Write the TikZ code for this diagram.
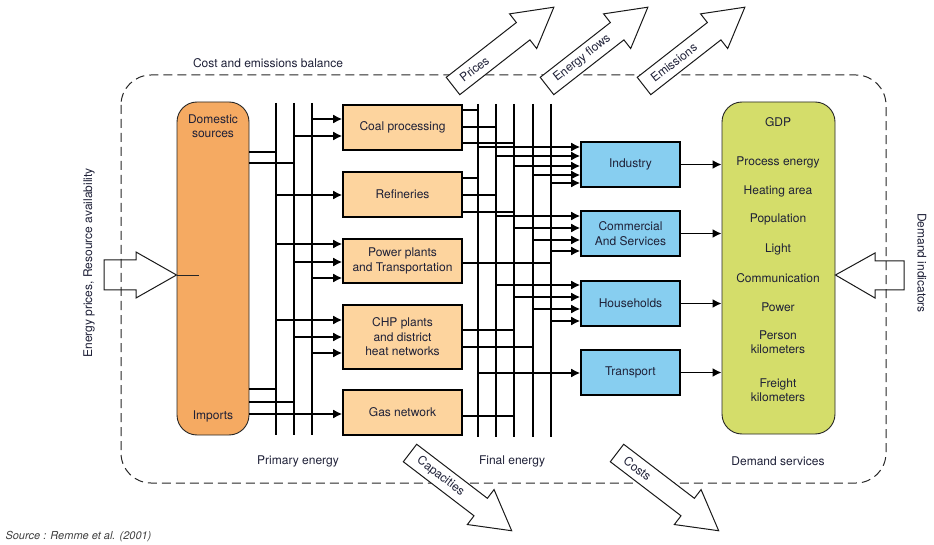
\documentclass[tikz,border=0pt]{standalone}
\usepackage{fontspec}
\setmainfont{TeX Gyre Heros}
\usepackage{xcolor}
\usetikzlibrary{arrows.meta}

\definecolor{srcfill}{RGB}{245,170,98}
\definecolor{procfill}{RGB}{253,212,158}
\definecolor{sectfill}{RGB}{135,206,240}
\definecolor{svcfill}{RGB}{212,221,106}
\definecolor{ink}{RGB}{30,32,55}

\newcommand\outflow[5]{%
  \begin{scope}[shift={(#1,#2)},rotate=#3]
    \draw[hollow,fill=white] (0,-11) -- (89,-11) -- (89,-22) -- (128,0)
      -- (89,22) -- (89,11) -- (0,11) -- cycle;
    \node[rotate=#3,anchor=west] (#5) at (7,0) {#4};
  \end{scope}}

\begin{document}
\begin{tikzpicture}[
x=1pt,y=-1pt,
every node/.style={
  font=\fontsize{12}{14.5}\selectfont,
  text=ink,
  align=center
},
column/.style={
  draw=black!85,
  line width=0.9pt,
  rounded corners=20pt
},
process/.style={
  draw,
  line width=1.6pt,
  fill=procfill,
  minimum width=119pt,
  minimum height=45pt
},
sector/.style={
  draw,
  line width=1.6pt,
  fill=sectfill,
  minimum width=99pt,
  minimum height=45pt
},
bus/.style={line width=1.6pt},
flow/.style={line width=1.6pt,-{Latex[length=9pt,width=9pt]}},
hollow/.style={draw=black!90,line width=1pt}
]
\useasboundingbox (0,0) rectangle (934,545);

\draw[black!85,line width=1pt,dash pattern=on 9pt off 5pt,rounded corners=30pt]
  (121,75) rectangle (886,483);
\node (balance) at (268,63) {Cost and emissions balance};

\outflow{453}{86}{38}{Prices}{prices}
\outflow{547}{86}{38}{Energy flows}{flows}
\outflow{644}{86}{38}{Emissions}{emis}
\outflow{410}{453}{-37.4}{Capacities}{capa}
\outflow{617}{453}{-37.4}{Costs}{costs}

\foreach \b/\xx in {p1/276,p2/294,p3/312}{
  \coordinate (\b) at (\xx,103);
  \draw[bus] (\b) -- (\b |- 0,435);
}
\foreach \b/\xx in {f1/478,f2/496,f3/514,f4/533,f5/551}{
  \coordinate (\b) at (\xx,104);
  \draw[bus] (\b) -- (\b |- 0,437);
}

\node[column,fill=srcfill,minimum width=72pt,minimum height=333pt] 
  (res) at (213,268.5) {};
\node (dom) at (213,126) {Domestic\\sources};
\node (imp) at (213,416) {Imports};

\node[process] (coal) at (402.5,127.5) {Coal processing};
\node[process] (refi) at (402.5,194.5) {Refineries};
\node[process,minimum height=44pt] 
  (power) at (402.5,261) {Power plants\\and Transportation};
\node[process,minimum height=64pt] 
  (chp) at (402.5,337) {CHP plants\\and district\\heat networks};
\node[process] (gas) at (402.5,412.5) {Gas network};

\node[sector] (ind) at (630.5,164.5) {Industry};
\node[sector] (comm) at (630.5,233.5) {Commercial\\And Services};
\node[sector] (home) at (630.5,303.5) {Households};
\node[sector] (trans) at (630.5,372.5) {Transport};

\node[column,fill=svcfill,minimum width=113pt,minimum height=332pt] 
  (svc) at (778.5,268) {};
\foreach \txt/\yy [count=\i] in {GDP/122,Process energy/162,Heating area/191,
    Population/219,Light/249,Communication/278,Power/307,
    {Person\\kilometers}/342,{Freight\\kilometers}/390}
  \node (need\i) at (778,\yy) {\txt};

\foreach \to/\yy in {p1/152,p2/163,p1/389,p2/402}
  \draw[bus] (res.east |- 0,\yy) -- (\to |- 0,\yy);
\draw[flow] (res.east |- 0,414) -- (gas.west |- 0,414);

\foreach \from/\yy/\to in {p3/119/coal,p2/136/coal,p1/195/refi,
    p1/244/power,p2/262/power,p3/278/power,p1/320/chp,p2/337/chp,p3/353/chp}
  \draw[flow] (\from |- 0,\yy) -- (\to.west |- 0,\yy);

\foreach \from/\yy/\to in {coal/110/f1,coal/127/f2,coal/143/f3,refi/178/f1,
    refi/195/f2,refi/212/f3,power/263/f5,chp/330/f3,chp/347/f4,gas/416/f3}
  \draw[bus] (\from.east |- 0,\yy) -- (\to |- 0,\yy);

\foreach \from/\yy/\to in {f1/147/ind,f2/156/ind,f3/166/ind,f4/175/ind,f5/183/ind,
    f2/216/comm,f3/228/comm,f4/240/comm,f5/251/comm,
    f2/285/home,f3/297/home,f4/309/home,f5/321/home,f1/373/trans}
  \draw[flow] (\from |- 0,\yy) -- (\to.west |- 0,\yy);

\foreach \s in {ind,comm,home,trans}
  \draw[flow] (\s.east) -- (\s.east -| svc.west);

\node (primary) at (298,461) {Primary energy};
\node (final) at (512,461) {Final energy};
\node (demand) at (778,461) {Demand services};

\coordinate (inlet) at (res.west |- 0,275);
\draw[hollow] (104,260) -- (136,260) -- (136,252) -- (inlet) 
  -- (136,298) -- (136,290) -- (104,290) -- cycle;
\draw[black!85,line width=0.9pt] (inlet) -- ++(22,0);
\node[rotate=90] (supply) at (89,263) {Energy prices, Resource availability};

\coordinate (outlet) at (svc.east |- 0,275);
\draw[hollow] (outlet) -- (875,253) -- (875,261) -- (904,261) 
  -- (904,290) -- (875,290) -- (875,298) -- cycle;
\node[rotate=-90] (indic) at (922,263) {Demand indicators};

\node[anchor=west,font=\fontsize{11}{13}\selectfont\itshape,text=black!75] 
  (source) at (2,537) {Source : Remme et al. (2001)};
\end{tikzpicture}
\end{document}
